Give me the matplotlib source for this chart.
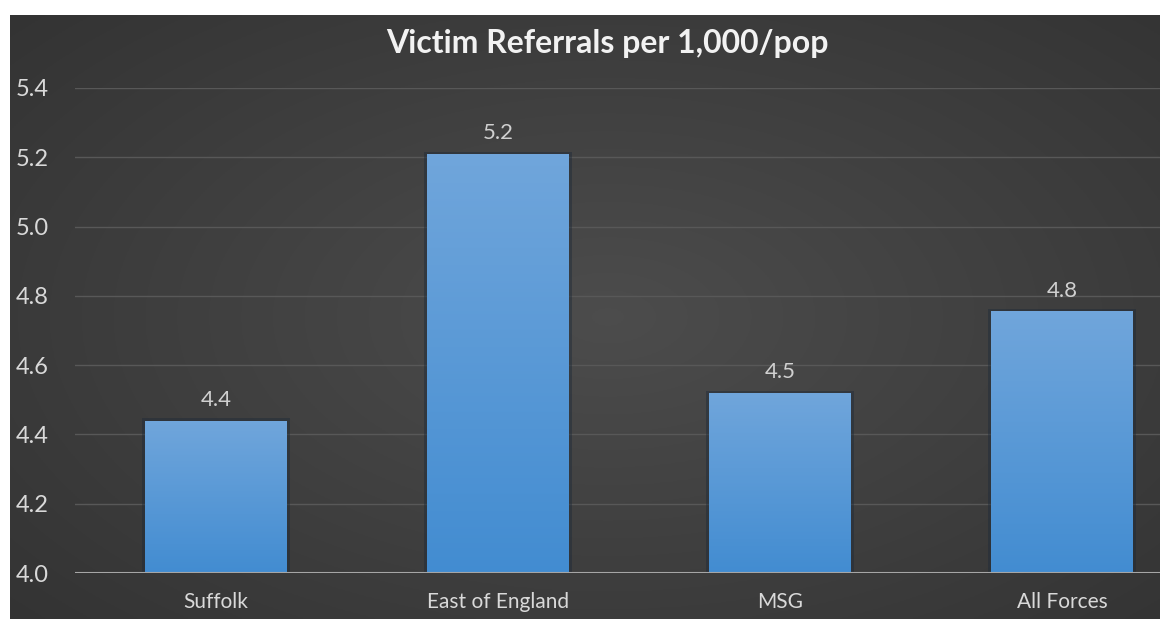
import numpy as np
import matplotlib
matplotlib.use("Agg")
from matplotlib import pyplot as plt

categories = ["Suffolk", "East of England", "MSG", "All Forces"]
values = [4.44, 5.21, 4.52, 4.755]
value_labels = ["4.4", "5.2", "4.5", "4.8"]
yticks = [4.0, 4.2, 4.4, 4.6, 4.8, 5.0, 5.2, 5.4]

plt.rcParams['font.family'] = ['Lato', 'DejaVu Sans']
W, H = 1160, 619
fig = plt.figure(figsize=(W / 100, H / 100), dpi=100, facecolor="white")

# dark panel with a soft radial gradient
bg = fig.add_axes([10 / W, 0, 1 - 10 / W, 1 - 15 / H])
bg.set_axis_off()
yy, xx = np.mgrid[0:1:300j, 0:1:600j]
r = np.sqrt(((xx - 0.52) / 0.85) ** 2 + ((yy - 0.5) / 0.9) ** 2)
shade = 0.30 - 0.12 * np.clip(r, 0, 1)
bg.imshow(np.dstack([shade] * 3), aspect="auto", extent=[0, 1, 0, 1])
bg.set_xlim(0, 1)
bg.set_ylim(0, 1)

ax = fig.add_axes([75 / W, (H - 573) / H, 1128 / W, 485 / H])
ax.patch.set_alpha(0)
x = np.arange(len(categories))
bars = ax.bar(x, [v - 4.0 for v in values], bottom=4.0, width=0.503,
              color="#5b9bd5", zorder=3)

# vertical gradient on each bar
grad = np.linspace(0, 1, 256).reshape(-1, 1)
top_c = np.array([0.44, 0.65, 0.86])
bot_c = np.array([0.26, 0.55, 0.82])
img = grad[..., None] * top_c + (1 - grad[..., None]) * bot_c
for b in bars:
    x0, y0 = b.get_x(), b.get_y()
    w, h = b.get_width(), b.get_height()
    # faint shadow around the bar
    ax.bar(x0 + w / 2, h + 0.006, bottom=y0, width=w * 1.04, color="#1e2a38",
           alpha=0.45, zorder=2)
    im = ax.imshow(img, extent=[x0, x0 + w, y0, y0 + h], origin="lower",
                   aspect="auto", zorder=4)
    im.set_clip_path(b)

for xi, v, lab in zip(x, values, value_labels):
    ax.text(xi, v + 0.03, lab, ha="center", va="bottom", color="#d0d0d0",
            fontsize=16, zorder=5)

ax.set_xlim(-0.5, 3.5)
ax.set_ylim(4.0, 5.4)
ax.set_yticks(yticks)
ax.set_yticklabels(["%.1f" % t for t in yticks])
ax.yaxis.grid(True, color="#585858", linewidth=1, zorder=1)
ax.set_axisbelow(True)
ax.axhline(4.0, color="#a6a6a6", linewidth=1.5, zorder=5)
for s in ax.spines.values():
    s.set_visible(False)
ax.tick_params(axis="y", length=0, pad=19, colors="#d9d9d9", labelsize=17)
ax.tick_params(axis="x", length=0, pad=14, colors="#d9d9d9", labelsize=15)
ax.set_xticks(x)
ax.set_xticklabels(categories)

fig.text(607 / W, 1 - 43 / H, "Victim Referrals per 1,000/pop", ha="center",
         va="center", color="#f2f2f2", fontsize=23, fontweight="bold")

fig.savefig("out.png", dpi=100, facecolor="white")
